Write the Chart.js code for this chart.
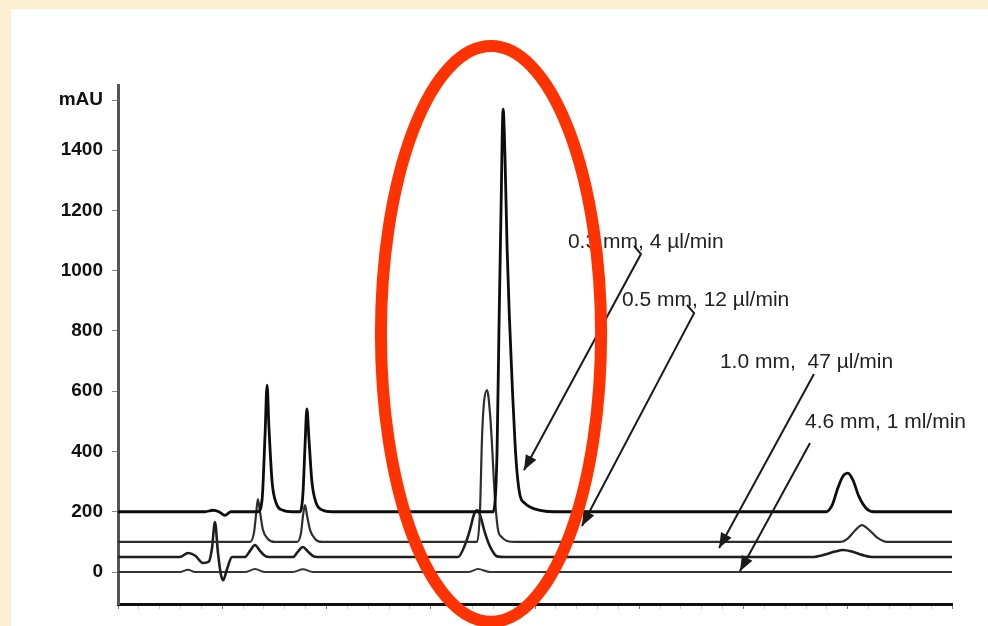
<!DOCTYPE html>
<html>
<head>
<meta charset="utf-8">
<script src="https://cdn.jsdelivr.net/npm/chart.js@4.4.1/dist/chart.umd.min.js"></script>
<style>
html, body { margin: 0; padding: 0; }
body { width: 988px; height: 626px; background: #fcefd1; position: relative; overflow: hidden; }
#panel { position: absolute; left: 11px; top: 9px; width: 977px; height: 617px; background: #fff; }
canvas { display: block; }
</style>
</head>
<body>
<div id="panel"><canvas id="chrom" width="977" height="617"></canvas></div>
<script>
// 四条色谱图：柱内径 / 流速
var seriesNames = ['0.3 mm, 4 µl/min', '0.5 mm, 12 µl/min', '1.0 mm,  47 µl/min', '4.6 mm, 1 ml/min'];

// [时间 min, mAU]，读图估计
var trace03 = [
    [0, 200], [4.17, 200], [4.56, 205], [4.84, 200], [5.13, 188], [5.42, 200],
    [6.71, 200], [6.91, 240], [7.05, 450], [7.15, 620], [7.24, 480], [7.39, 300], [7.58, 230], [7.91, 205], [8.35, 200],
    [8.73, 200], [8.87, 260], [8.97, 420], [9.06, 541], [9.16, 440], [9.30, 300], [9.50, 230], [9.83, 205], [10.26, 200],
    [17.99, 200], [18.18, 400], [18.27, 800], [18.37, 1200], [18.47, 1536], [18.56, 1380], [18.66, 1080], [18.77, 850],
    [18.92, 600], [19.04, 430], [19.14, 330], [19.28, 255], [19.52, 228], [19.76, 216], [20.24, 205], [20.96, 200],
    [33.96, 200], [34.24, 220], [34.53, 280], [34.77, 318], [35.01, 328], [35.25, 305], [35.54, 250], [35.88, 212], [36.26, 200],
    [40, 200]
];
var trace05 = [
    [0, 100], [6.33, 100], [6.52, 130], [6.62, 190], [6.71, 242], [6.81, 200], [6.95, 140], [7.19, 110], [7.53, 100],
    [8.59, 100], [8.78, 130], [8.87, 185], [8.97, 222], [9.06, 190], [9.21, 140], [9.45, 110], [9.78, 100],
    [17.22, 100], [17.36, 200], [17.46, 448], [17.55, 560], [17.70, 604], [17.84, 528], [17.94, 420], [18.03, 300],
    [18.13, 200], [18.23, 139], [18.42, 115], [18.66, 103], [19.04, 100],
    [34.63, 100], [35.01, 112], [35.35, 138], [35.68, 156], [36.02, 140], [36.40, 115], [36.88, 100],
    [40, 100]
];
var trace10 = [
    [0, 50], [2.97, 50], [3.36, 63], [3.69, 55], [4.08, 30], [4.36, 35], [4.51, 80], [4.65, 166], [4.80, 60],
    [4.94, -10], [5.04, -27], [5.23, 10], [5.47, 50],
    [6.09, 50], [6.33, 70], [6.57, 90], [6.81, 70], [7.10, 52], [7.39, 50],
    [8.39, 50], [8.63, 68], [8.87, 83], [9.11, 68], [9.40, 52], [9.69, 50],
    [16.31, 50], [16.64, 90], [16.88, 140], [17.07, 190], [17.22, 205], [17.36, 190], [17.60, 130], [17.84, 85], [18.18, 52], [18.56, 50],
    [33.29, 50], [33.91, 58], [34.39, 68], [34.77, 73], [35.20, 68], [35.68, 57], [36.16, 50],
    [40, 50]
];
var trace46 = [
    [0, 0], [2.97, 0], [3.36, 8], [3.69, 0],
    [6.09, 0], [6.57, 10], [7.05, 0],
    [8.39, 0], [8.87, 9], [9.35, 0],
    [16.79, 0], [17.27, 10], [17.84, 0],
    [40, 0]
];

// 坐标轴
var yTickValues = [0, 200, 400, 600, 800, 1000, 1200, 1400];
var yUnitLabel = 'mAU';
var yUnitValue = 1566;
var yMin = -106, yMax = 1616;
var xMin = 0, xMax = 40;

// 标注：文字位置、箭头折线（数据坐标）
var labelAnchors = [[21.58, 1095], [24.17, 902], [28.87, 697], [32.95, 498]];
var arrowPaths = [
    [[24.75, 1082], [25.08, 1055], [19.47, 338]],
    [[27.29, 886], [27.63, 859], [22.25, 153]],
    [[33.38, 657], [28.83, 80]],
    [[33.19, 428], [29.83, 3]]
];
var ringCenter = [17.89, 790];
var ringRadius = [5.28, 955];

function toPoints(arr) {
    return arr.map(function(p) { return { x: p[0], y: p[1] }; });
}

var annotations = {
    id: 'annotations',
    afterDraw: function(chart) {
        var ctx = chart.ctx;
        var xs = chart.scales.x;
        var ys = chart.scales.y;
        function px(p) { return [xs.getPixelForValue(p[0]), ys.getPixelForValue(p[1])]; }

        ctx.save();

        // 文字
        ctx.fillStyle = '#222';
        ctx.font = '21px "Liberation Sans", Arial, sans-serif';
        ctx.textBaseline = 'middle';
        ctx.textAlign = 'left';
        labelAnchors.forEach(function(a, i) {
            var p = px(a);
            ctx.fillText(seriesNames[i], p[0], p[1]);
        });

        // 箭头
        ctx.strokeStyle = '#1a1a1a';
        ctx.fillStyle = '#1a1a1a';
        ctx.lineWidth = 2;
        arrowPaths.forEach(function(path) {
            var pts = path.map(px);
            ctx.beginPath();
            ctx.moveTo(pts[0][0], pts[0][1]);
            for (var i = 1; i < pts.length; i++) {
                ctx.lineTo(pts[i][0], pts[i][1]);
            }
            ctx.stroke();

            var tip = pts[pts.length - 1];
            var prev = pts[pts.length - 2];
            var ang = Math.atan2(tip[1] - prev[1], tip[0] - prev[0]);
            var len = 15, half = 6;
            var bx = tip[0] - Math.cos(ang) * len;
            var by = tip[1] - Math.sin(ang) * len;
            ctx.beginPath();
            ctx.moveTo(tip[0], tip[1]);
            ctx.lineTo(bx + Math.sin(ang) * half, by - Math.cos(ang) * half);
            ctx.lineTo(bx - Math.sin(ang) * half, by + Math.cos(ang) * half);
            ctx.closePath();
            ctx.fill();
        });

        // 红色椭圆
        var c = px(ringCenter);
        var rx = Math.abs(xs.getPixelForValue(ringCenter[0] + ringRadius[0]) - c[0]);
        var ry = Math.abs(ys.getPixelForValue(ringCenter[1] + ringRadius[1]) - c[1]);
        ctx.strokeStyle = '#ff3300';
        ctx.lineWidth = 12;
        ctx.beginPath();
        ctx.ellipse(c[0], c[1], rx, ry, 0, 0, Math.PI * 2);
        ctx.stroke();

        ctx.restore();
    }
};

var common = {
    showLine: true,
    pointRadius: 0,
    fill: false,
    cubicInterpolationMode: 'monotone'
};

function makeSet(name, data, color, width) {
    return Object.assign({ label: name, data: toPoints(data), borderColor: color, borderWidth: width }, common);
}

new Chart(document.getElementById('chrom').getContext('2d'), {
    type: 'scatter',
    data: {
        datasets: [
            makeSet(seriesNames[0], trace03, '#0d0d0d', 2.8),
            makeSet(seriesNames[1], trace05, '#2e2e2e', 2.2),
            makeSet(seriesNames[2], trace10, '#1e1e1e', 2.6),
            makeSet(seriesNames[3], trace46, '#353535', 2)
        ]
    },
    options: {
        responsive: false,
        animation: false,
        layout: { padding: { top: 76, right: 36, bottom: 0, left: 0 } },
        plugins: {
            legend: { display: false },
            tooltip: { enabled: false }
        },
        scales: {
            x: {
                type: 'linear',
                min: xMin,
                max: xMax,
                border: { display: true, color: '#111', width: 3 },
                grid: {
                    drawOnChartArea: false,
                    tickLength: 5,
                    tickColor: function(c) {
                        return c.tick && c.tick.value % 5 === 0 ? '#777' : '#cfcfcf';
                    }
                },
                ticks: {
                    stepSize: 1,
                    autoSkip: false,
                    maxRotation: 0,
                    callback: function() { return ''; }
                },
                afterFit: function(s) { s.height = 22; }
            },
            y: {
                type: 'linear',
                min: yMin,
                max: yMax,
                border: { display: true, color: '#555', width: 3 },
                grid: { drawOnChartArea: false, tickLength: 6, tickColor: '#888' },
                afterBuildTicks: function(s) {
                    s.ticks = yTickValues.concat([yUnitValue]).map(function(v) { return { value: v }; });
                },
                ticks: {
                    autoSkip: false,
                    padding: 9,
                    color: '#111',
                    font: { family: '"Liberation Sans", Arial, sans-serif', size: 19, weight: 'bold' },
                    callback: function(v) { return v === yUnitValue ? yUnitLabel : String(v); }
                },
                afterFit: function(s) { s.width = 107; }
            }
        }
    },
    plugins: [annotations]
});
</script>
</body>
</html>
